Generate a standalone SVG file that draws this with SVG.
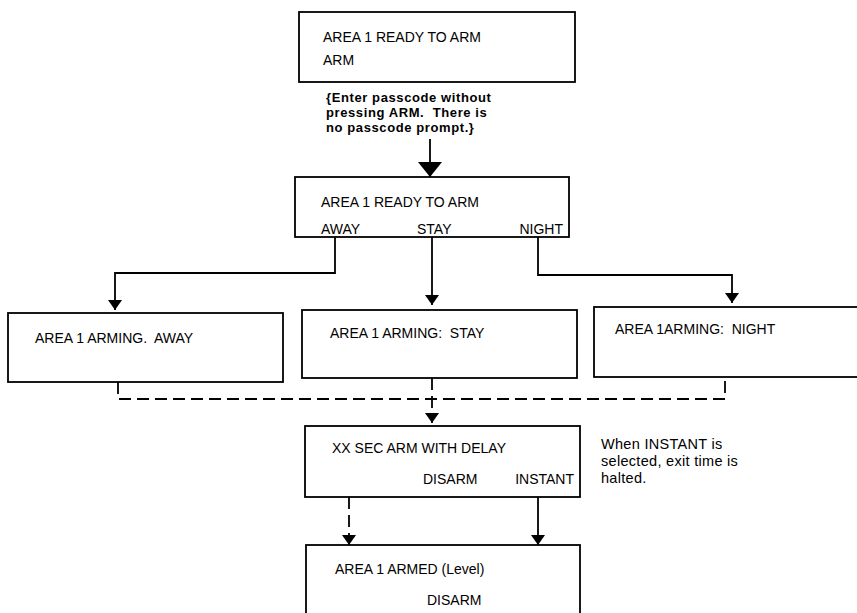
<svg xmlns="http://www.w3.org/2000/svg" width="857" height="613" viewBox="0 0 857 613">
  <style>
    .box { fill: #ffffff; stroke: #000000; stroke-width: 1.8; }
    .t { font-family: "Liberation Sans", Arial, sans-serif; font-size: 14px; fill: #000000; white-space: pre; }
    .tn { font-family: "Liberation Sans", Arial, sans-serif; font-size: 14.5px; letter-spacing: 0.3px; fill: #000000; white-space: pre; }
    .tb { font-family: "Liberation Sans", Arial, sans-serif; font-size: 13px; letter-spacing: 0.6px; font-weight: bold; fill: #000000; white-space: pre; }
    .ln { fill: none; stroke: #000000; stroke-width: 1.8; }
    .dash { fill: none; stroke: #000000; stroke-width: 1.8; stroke-dasharray: 12 6; }
  </style>
  <defs>
    <marker id="arr" viewBox="0 0 10 14" refX="10" refY="7" markerWidth="10" markerHeight="14" markerUnits="userSpaceOnUse" orient="auto">
      <path d="M0,0 L10,7 L0,14 z" fill="#000000"/>
    </marker>
    <marker id="arrBig" viewBox="0 0 15 24" refX="15" refY="12" markerWidth="15" markerHeight="24" markerUnits="userSpaceOnUse" orient="auto">
      <path d="M0,0 L15,12 L0,24 z" fill="#000000"/>
    </marker>
  </defs>

  <g id="connectors">
    <line class="ln" x1="430" y1="139" x2="430" y2="177" marker-end="url(#arrBig)"/>
    <polyline class="ln" points="335,237 335,273 115,273 115,310" marker-end="url(#arr)"/>
    <line class="ln" x1="432" y1="237" x2="432" y2="305" marker-end="url(#arr)"/>
    <polyline class="ln" points="538,237 538,275 732,275 732,303" marker-end="url(#arr)"/>
    <polyline class="dash" points="118,382 118,399 725,399 725,377"/>
    <line class="dash" x1="432" y1="378" x2="432" y2="423" marker-end="url(#arr)"/>
    <line class="dash" x1="349" y1="497" x2="349" y2="545" marker-end="url(#arr)"/>
    <line class="ln" x1="538" y1="497" x2="538" y2="545" marker-end="url(#arr)"/>
  </g>

  <g id="ready1">
    <rect class="box" x="299" y="12" width="276" height="70"/>
    <text class="t" x="323" y="42">AREA 1 READY TO ARM</text>
    <text class="t" x="323" y="65">ARM</text>
  </g>

  <g id="note-passcode">
    <text class="tb" x="326" y="102">{Enter passcode without</text>
    <text class="tb" x="326" y="117">pressing ARM.  There is</text>
    <text class="tb" x="326" y="132">no passcode prompt.}</text>
  </g>

  <g id="ready2">
    <rect class="box" x="295" y="177" width="274" height="60"/>
    <text class="t" x="321" y="207">AREA 1 READY TO ARM</text>
    <text class="t" x="321" y="234">AWAY</text>
    <text class="t" x="417" y="234">STAY</text>
    <text class="t" x="563" y="234" text-anchor="end">NIGHT</text>
  </g>

  <g id="arming-away">
    <rect class="box" x="8" y="313" width="275" height="69"/>
    <text class="t" x="35" y="343">AREA 1 ARMING.  AWAY</text>
  </g>

  <g id="arming-stay">
    <rect class="box" x="302" y="310" width="275" height="68"/>
    <text class="t" x="330" y="338">AREA 1 ARMING:  STAY</text>
  </g>

  <g id="arming-night">
    <rect class="box" x="594" y="307" width="270" height="70"/>
    <text class="t" x="615" y="334">AREA 1ARMING:  NIGHT</text>
  </g>

  <g id="delay">
    <rect class="box" x="305" y="426" width="275" height="71"/>
    <text class="t" x="332" y="453">XX SEC ARM WITH DELAY</text>
    <text class="t" x="423" y="484">DISARM</text>
    <text class="t" x="574" y="484" text-anchor="end">INSTANT</text>
  </g>

  <g id="note-instant">
    <text class="tn" x="601" y="449">When INSTANT is</text>
    <text class="tn" x="601" y="466">selected, exit time is</text>
    <text class="tn" x="601" y="483">halted.</text>
  </g>

  <g id="armed">
    <rect class="box" x="306" y="545" width="274" height="80"/>
    <text class="t" x="335" y="574">AREA 1 ARMED (Level)</text>
    <text class="t" x="427" y="605">DISARM</text>
  </g>
</svg>
